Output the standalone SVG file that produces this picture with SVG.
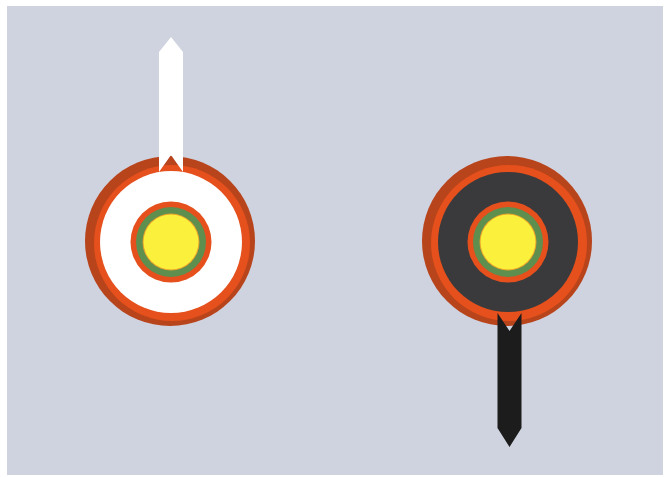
<svg xmlns="http://www.w3.org/2000/svg" width="667" height="477" viewBox="0 0 667 477">
<style>
.brown{fill:#b8441c}
.orange{fill:#e5501c}
.green{fill:#5e8f4e}
.yellow{fill:#fbf03c}
.thin{fill:none;stroke:#e8a02a;stroke-width:1}
</style>
<rect x="0" y="0" width="667" height="477" fill="#ffffff"/>
<rect x="7" y="6" width="656" height="469" fill="#cfd3df"/>
<g id="left-signal">
  <circle cx="170" cy="241" r="85" class="brown"/>
  <circle cx="172" cy="243" r="78" class="orange"/>
  <circle cx="171" cy="242" r="71" fill="#ffffff"/>
  <circle cx="171" cy="242" r="40.5" class="orange"/>
  <circle cx="171" cy="242" r="35" class="green"/>
  <circle cx="171" cy="242" r="28.5" fill="#e8a02a"/>
  <circle cx="171" cy="242" r="27.5" class="yellow"/>
  <polygon points="159,52 171,37 183,52 183,172 171,155 159,172" fill="#ffffff"/>
</g>
<g id="right-signal">
  <circle cx="507" cy="241" r="85" class="brown"/>
  <circle cx="509" cy="243" r="78" class="orange"/>
  <circle cx="508" cy="242" r="70" fill="#3a3a3c"/>
  <circle cx="508" cy="242" r="40.5" class="orange"/>
  <circle cx="508" cy="242" r="35" class="green"/>
  <circle cx="508" cy="242" r="28.5" fill="#e8a02a"/>
  <circle cx="508" cy="242" r="27.5" class="yellow"/>
  <polygon points="497.5,313 509.5,331 521.5,313 521.5,428 509.5,447 497.5,428" fill="#1c1c1c"/>
</g>
</svg>
